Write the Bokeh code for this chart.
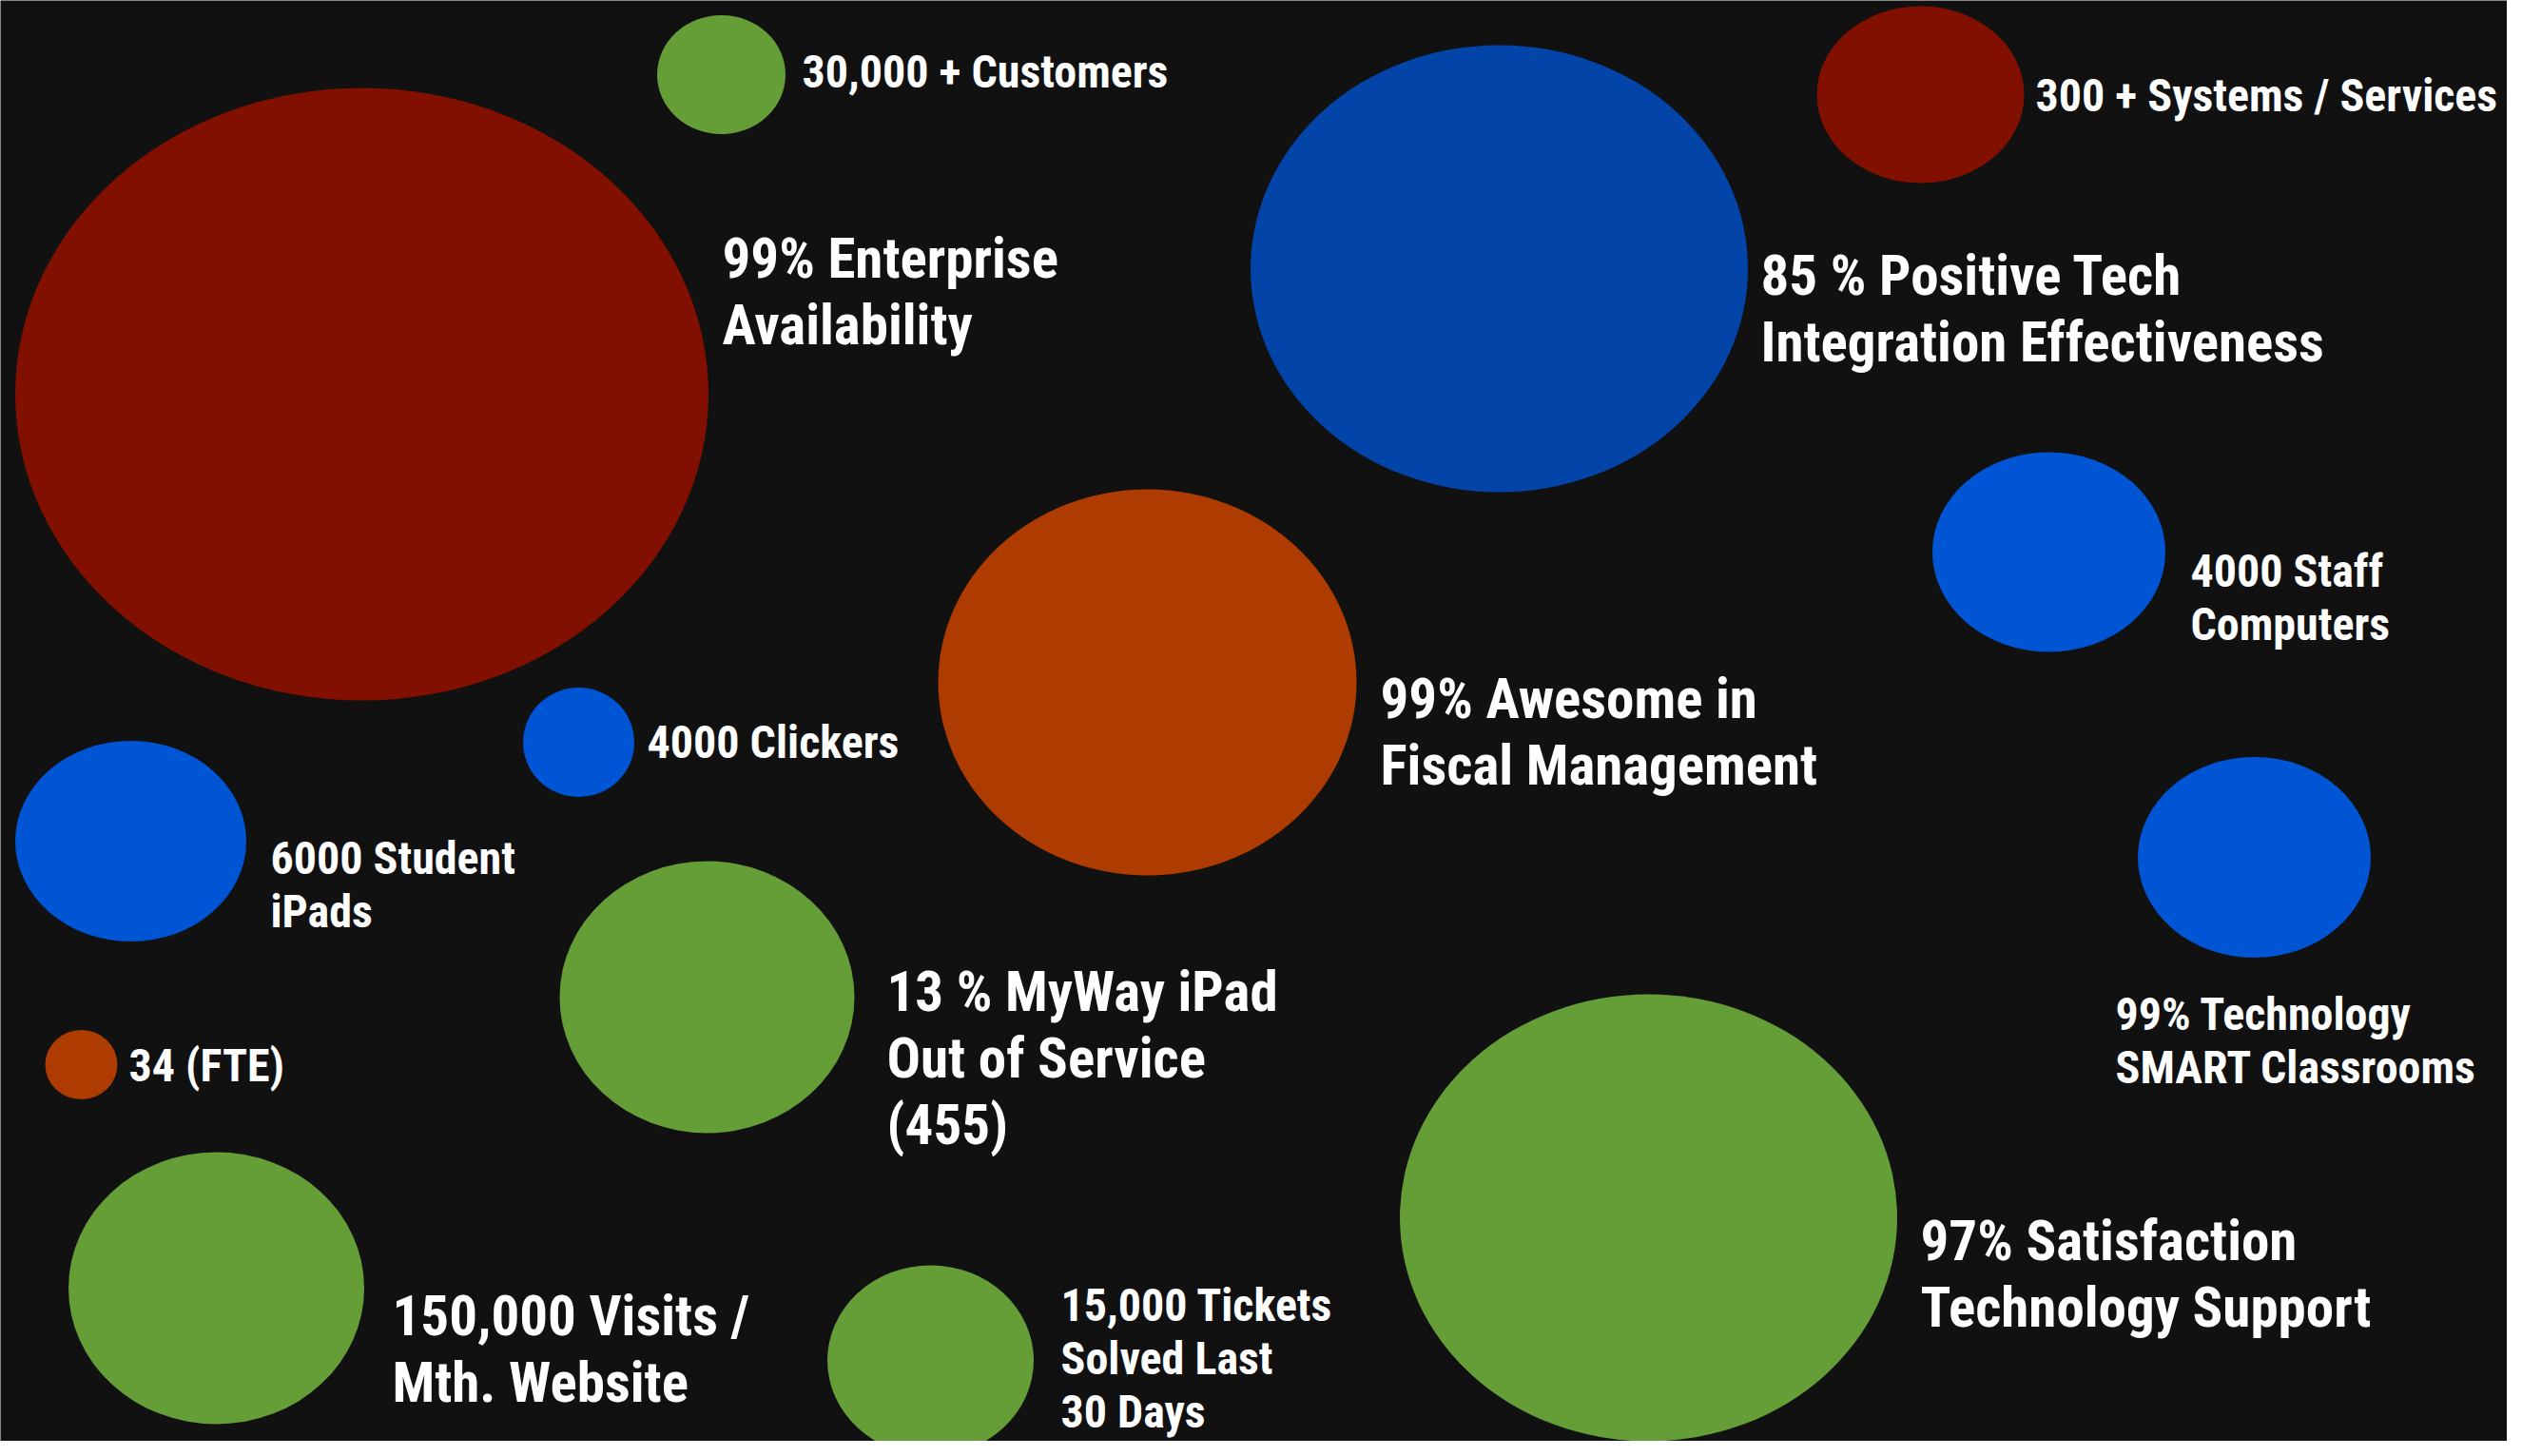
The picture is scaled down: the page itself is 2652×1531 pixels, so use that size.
from bokeh.plotting import figure
from bokeh.models import Range1d, ColumnDataSource
from bokeh.core.properties import value
from bokeh.embed import file_html
from bokeh.resources import INLINE

# ---- data (pixel coordinates of the infographic) ----
bubble_x = [380, 758, 1576, 2019, 1206, 608, 137, 2154, 2370, 85, 743, 227, 978, 1733]
bubble_y = [414, 78, 282, 99, 717, 780, 884, 580, 901, 1119, 1048, 1354, 1430, 1280]
bubble_w = [729, 135, 523, 218, 440, 117, 243, 245, 245, 76, 310, 311, 217, 523]
bubble_h = [644, 125, 470, 186, 406, 115, 211, 210, 211, 73, 286, 286, 200, 470]
bubble_color = ["#821000", "#659d37", "#0344a9", "#821000", "#ae3b00", "#0055d4",
                "#0055d4", "#0055d4", "#0055d4", "#ae3b00", "#659d37", "#659d37",
                "#659d37", "#659d37"]

labels = [
    "99% Enterprise\nAvailability",
    "30,000 + Customers",
    "85 % Positive Tech\nIntegration Effectiveness",
    "300 + Systems / Services",
    "99% Awesome in\nFiscal Management",
    "4000 Clickers",
    "6000 Student\niPads",
    "4000 Staff\nComputers",
    "99% Technology\nSMART Classrooms",
    "34 (FTE)",
    "13 % MyWay iPad\nOut of Service\n(455)",
    "150,000 Visits /\nMth. Website",
    "15,000 Tickets\nSolved Last\n30 Days",
    "97% Satisfaction\nTechnology Support",
]
label_x = [759, 843, 1851, 2140, 1451, 680, 284, 2303, 2224, 135, 932, 412, 1115, 2019]
label_y = [271, 75, 289, 100, 734, 780, 902, 600, 1066, 1120, 1042, 1383, 1372, 1304]
label_big = [True, False, True, False, True, False, False, False, False, False,
             True, True, False, True]

BG = "#111111"
FONT = "Roboto Condensed, DejaVu Sans Condensed, sans-serif"

W, H = 2636, 1515
p = figure(width=W, height=H, output_backend="svg", toolbar_location=None,
           x_range=Range1d(0, W), y_range=Range1d(H, 0),
           min_border=0, background_fill_color=BG, border_fill_color=BG,
           outline_line_color=None)
p.axis.visible = False
p.grid.visible = False

p.ellipse(x=bubble_x, y=bubble_y, width=bubble_w, height=bubble_h,
          fill_color=bubble_color, line_color=None)

# split labels into lines
big_src = dict(x=[], y=[], t=[])
small_src = dict(x=[], y=[], t=[])
for lab, lx, ly, big in zip(labels, label_x, label_y, label_big):
    d = big_src if big else small_src
    step = 70 if big else 56
    for i, line in enumerate(lab.split("\n")):
        d["x"].append(lx)
        d["y"].append(ly + i * step)
        d["t"].append(line)

for d, size in ((big_src, "59px"), (small_src, "48px")):
    p.text(x="x", y="y", text="t", source=ColumnDataSource(d),
           text_font=value(FONT), text_font_size=value(size),
           text_font_style="bold", text_color="white",
           text_align="left", text_baseline="alphabetic")

open("out.html", "w").write(file_html(p, INLINE))
